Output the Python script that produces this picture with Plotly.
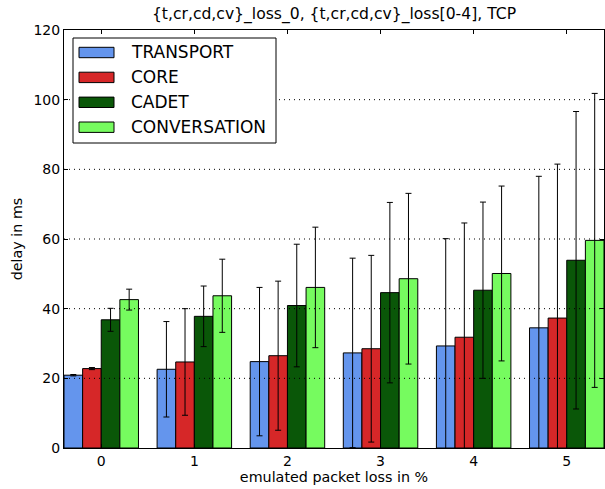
import plotly.graph_objects as go

# Mean delay (ms) per emulated packet-loss level, with standard deviation
loss_levels = [0, 1, 2, 3, 4, 5]
series_names = ["TRANSPORT", "CORE", "CADET", "CONVERSATION"]
series_colors = ["#6495ed", "#d62728", "#0a5708", "#76fb5f"]

transport_mean = [20.9, 22.6, 24.8, 27.3, 29.3, 34.5]
transport_std = [0.2, 13.7, 21.3, 27.2, 30.8, 43.5]
core_mean = [22.8, 24.7, 26.5, 28.5, 31.8, 37.3]
core_std = [0.3, 15.3, 21.4, 26.8, 32.8, 44.2]
cadet_mean = [36.8, 37.8, 40.9, 44.6, 45.3, 53.9]
cadet_std = [3.3, 8.7, 17.6, 25.9, 25.3, 42.7]
conversation_mean = [42.6, 43.7, 46.1, 48.6, 50.1, 59.6]
conversation_std = [3.0, 10.5, 17.3, 24.5, 25.1, 42.2]

means = [transport_mean, core_mean, cadet_mean, conversation_mean]
stds = [transport_std, core_std, cadet_std, conversation_std]

y_ticks = [0, 20, 40, 60, 80, 100, 120]
grid_levels = [20, 40, 60, 80, 100]

FONT = "DejaVu Sans, sans-serif"
W, H = 605, 489
M_L, M_R, M_T, M_B = 64, 1, 30, 41

fig = go.Figure()
for name, color, mu, sd in zip(series_names, series_colors, means, stds):
    fig.add_trace(go.Bar(
        x=loss_levels, y=mu, name=name,
        marker=dict(color=color, line=dict(color="black", width=1)),
        error_y=dict(type="data", array=sd, visible=True,
                     color="black", thickness=1, width=3),
        showlegend=False,
    ))

# dotted horizontal grid drawn above the bars
for g in grid_levels:
    fig.add_shape(type="line", xref="paper", x0=0, x1=1, yref="y", y0=g, y1=g,
                  line=dict(color="black", width=1, dash="1px,4px"), layer="above")

# boxed legend with wide patches
plot_w = W - M_L - M_R
plot_h = H - M_T - M_B


def px_x(px):
    return (px - M_L) / plot_w


def px_y(py):
    return (H - M_B - py) / plot_h


fig.add_shape(type="rect", xref="paper", yref="paper",
              x0=px_x(73), x1=px_x(276), y0=px_y(143), y1=px_y(38),
              line=dict(color="black", width=1), fillcolor="white", layer="above")
for i, (name, color) in enumerate(zip(series_names, series_colors)):
    cy = 52.5 + 24.9 * i
    fig.add_shape(type="rect", xref="paper", yref="paper",
                  x0=px_x(79), x1=px_x(114), y0=px_y(cy + 5.2), y1=px_y(cy - 5.2),
                  line=dict(color="black", width=1), fillcolor=color, layer="above")
    fig.add_annotation(xref="paper", yref="paper", x=px_x(129), y=px_y(cy),
                       xanchor="left", yanchor="middle", text=name, showarrow=False,
                       font=dict(family=FONT, size=17, color="black"))

fig.update_layout(
    width=W, height=H,
    margin=dict(l=M_L, r=M_R, t=M_T, b=M_B),
    paper_bgcolor="white", plot_bgcolor="white",
    barmode="group", bargap=0.2, bargroupgap=0,
    font=dict(family=FONT, size=14, color="black"),
    title=dict(text="{t,cr,cd,cv}_loss_0, {t,cr,cd,cv}_loss[0-4], TCP",
               x=(M_L + plot_w / 2) / W, xanchor="center",
               y=1 - 14 / H, yanchor="middle",
               font=dict(family=FONT, size=15.6, color="black")),
    showlegend=False,
)
fig.update_xaxes(
    range=[-0.4, 5.4], tickmode="array", tickvals=loss_levels,
    ticktext=[str(v) for v in loss_levels],
    ticks="inside", ticklen=4, tickcolor="black",
    tickfont=dict(family=FONT, size=14),
    showline=True, linecolor="black", linewidth=1, mirror="ticks",
    showgrid=False, zeroline=False,
    title=dict(text="emulated packet loss in %", standoff=4,
               font=dict(family=FONT, size=14.3)),
)
fig.update_yaxes(
    range=[0, 120], tickmode="array", tickvals=y_ticks,
    ticks="inside", ticklen=4, tickcolor="black",
    tickfont=dict(family=FONT, size=14),
    showline=True, linecolor="black", linewidth=1, mirror="ticks",
    showgrid=False, zeroline=False,
    title=dict(text="delay in ms", standoff=7, font=dict(family=FONT, size=14.3)),
)

fig.write_html("out.html")
